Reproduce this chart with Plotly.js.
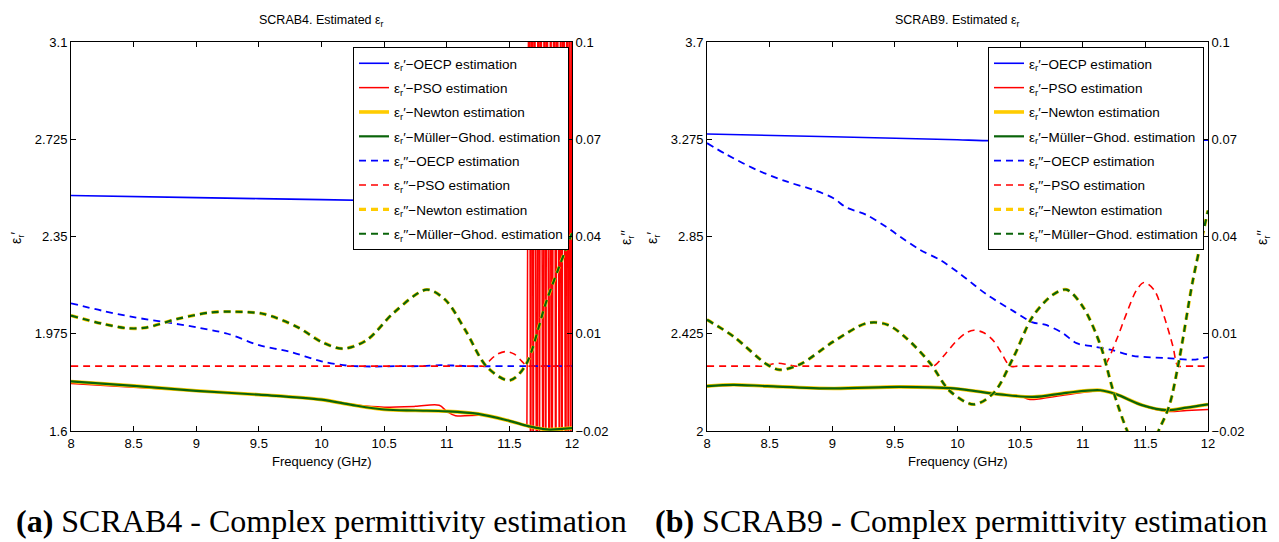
<!DOCTYPE html>
<html>
<head>
<meta charset="utf-8">
<script src="https://cdn.plot.ly/plotly-3.0.1.min.js"></script>
<style>html,body{margin:0;padding:0;background:#fff;}#chart{width:1279px;height:542px;}</style>
</head>
<body>
<div id="chart"></div>
<script>
// ---------------- DATA ----------------
const xTicks = [8, 8.5, 9, 9.5, 10, 10.5, 11, 11.5, 12];
const xTickText = ['8', '8.5', '9', '9.5', '10', '10.5', '11', '11.5', '12'];
const yTicksA = [1.6, 1.975, 2.35, 2.725, 3.1];
const yTicksB = [2, 2.425, 2.85, 3.275, 3.7];
const y2Ticks = [-0.02, 0.01, 0.04, 0.07, 0.1];
const y2TickText = ['\u22120.02', '0.01', '0.04', '0.07', '0.1'];

const legendNames = [
  'ε<sub>r</sub>′−OECP estimation',
  'ε<sub>r</sub>′−PSO estimation',
  'ε<sub>r</sub>′−Newton estimation',
  'ε<sub>r</sub>′−Müller−Ghod. estimation',
  'ε<sub>r</sub>′′−OECP estimation',
  'ε<sub>r</sub>′′−PSO estimation',
  'ε<sub>r</sub>′′−Newton estimation',
  'ε<sub>r</sub>′′−Müller−Ghod. estimation'
];

// ---- SCRAB4 : real part ----
const f4_reOECP = [8, 9, 10, 11, 12];
const s4_reOECP = [2.508, 2.500, 2.492, 2.484, 2.477];

const f4_reNewton = [8, 8.5, 9, 9.5, 10, 10.25, 10.5, 10.75, 11, 11.25, 11.5, 11.65, 11.8, 12];
const s4_reNewton = [1.791, 1.774, 1.755, 1.740, 1.721, 1.700, 1.683, 1.679, 1.676, 1.666, 1.639, 1.619, 1.606, 1.611];
const f4_reMuller = [8, 8.5, 9, 9.5, 10, 10.25, 10.5, 10.75, 11, 11.25, 11.5, 11.65, 11.8, 12];
const s4_reMuller = [1.791, 1.774, 1.755, 1.740, 1.721, 1.700, 1.683, 1.679, 1.676, 1.666, 1.639, 1.619, 1.606, 1.611];

const f4_rePSO = [8, 8.5, 9, 9.5, 10, 10.25, 10.4, 10.5, 10.75, 10.94, 11.0, 11.07, 11.26, 11.35, 11.5, 11.64];
const s4_rePSO = [1.783, 1.769, 1.755, 1.741, 1.722, 1.702, 1.694, 1.692, 1.695, 1.699, 1.676, 1.659, 1.661, 1.658, 1.640, 1.620];
// divergent PSO estimate above 11.64 GHz (off scale, alternating)
const f4_rePSOdiv = [11.64, 11.66, 11.67, 11.68, 11.69, 11.70, 11.72, 11.73, 11.74, 11.75, 11.77, 11.78, 11.79, 11.80, 11.82, 11.83, 11.84, 11.86, 11.87, 11.88, 11.90, 11.91, 11.92, 11.93, 11.95, 11.96, 11.97, 11.98, 11.99, 12.00];
const s4_rePSOdiv = [1.620, 4.1, 0.8, 4.6, 1.0, 3.9, 0.7, 4.4, 1.2, 4.0, 0.9, 4.7, 1.1, 3.8, 0.8, 4.3, 1.0, 4.5, 0.7, 4.1, 1.2, 3.9, 0.9, 4.6, 0.8, 4.2, 1.1, 4.0, 0.9, 4.4];

// ---- SCRAB4 : imaginary part ----
const f4_imOECP = [8, 8.25, 8.5, 8.75, 9, 9.25, 9.5, 9.75, 10, 10.2, 10.4, 10.6, 10.8, 10.95, 11.05, 11.2, 11.5, 12];
const s4_imOECP = [0.0194, 0.0171, 0.0151, 0.0136, 0.0120, 0.0100, 0.0065, 0.0044, 0.0015, 0.0002, -0.0001, 0.0, 0.0, 0.0003, 0.0002, 0.0, 0.0, 0.0];
const f4_imPSO = [8, 9, 10, 10.8, 11.2, 11.28, 11.3, 11.34, 11.4, 11.47, 11.54, 11.6, 11.64, 11.66, 11.8, 12];
const s4_imPSO = [0, 0, 0, 0, 0, 0, 0, 0.0016, 0.0036, 0.0045, 0.0037, 0.0015, 0, 0, 0, 0];
const f4_imNewton = [8, 8.25, 8.45, 8.6, 8.85, 9.12, 9.29, 9.54, 9.81, 10.0, 10.17, 10.36, 10.58, 10.84, 10.99, 11.15, 11.32, 11.5, 11.625, 11.8, 12];
const s4_imNewton = [0.0156, 0.0131, 0.0117, 0.0119, 0.0146, 0.0166, 0.0168, 0.0161, 0.0120, 0.0075, 0.0054, 0.0080, 0.0166, 0.0236, 0.0204, 0.0110, -0.0002, -0.0044, 0.0, 0.0205, 0.041];
const f4_imMuller = [8, 8.25, 8.45, 8.6, 8.85, 9.12, 9.29, 9.54, 9.81, 10.0, 10.17, 10.36, 10.58, 10.84, 10.99, 11.15, 11.32, 11.5, 11.625, 11.8, 12];
const s4_imMuller = [0.0156, 0.0131, 0.0117, 0.0119, 0.0146, 0.0166, 0.0168, 0.0161, 0.0120, 0.0075, 0.0054, 0.0080, 0.0166, 0.0236, 0.0204, 0.0110, -0.0002, -0.0044, 0.0, 0.0205, 0.041];

// ---- SCRAB9 : real part ----
const f9_reOECP = [8, 9, 10, 10.2, 11, 12];
const s9_reOECP = [3.298, 3.286, 3.273, 3.269, 3.270, 3.271];
const f9_reNewton = [8, 8.21, 8.48, 9.01, 9.54, 9.97, 10.34, 10.61, 10.87, 11.14, 11.27, 11.48, 11.67, 11.83, 12];
const s9_reNewton = [2.196, 2.202, 2.196, 2.186, 2.193, 2.186, 2.160, 2.149, 2.167, 2.178, 2.160, 2.112, 2.091, 2.102, 2.116];
const f9_reMuller = [8, 8.21, 8.48, 9.01, 9.54, 9.97, 10.34, 10.61, 10.87, 11.14, 11.27, 11.48, 11.67, 11.83, 12];
const s9_reMuller = [2.196, 2.202, 2.196, 2.186, 2.193, 2.186, 2.160, 2.149, 2.167, 2.178, 2.160, 2.112, 2.091, 2.102, 2.116];
const f9_rePSO = [8, 8.21, 8.48, 9.01, 9.3, 9.54, 9.8, 9.97, 10.34, 10.5, 10.56, 10.61, 10.87, 11.14, 11.27, 11.48, 11.67, 11.83, 12];
const s9_rePSO = [2.194, 2.200, 2.195, 2.187, 2.192, 2.196, 2.192, 2.186, 2.160, 2.153, 2.140, 2.138, 2.158, 2.176, 2.160, 2.110, 2.086, 2.090, 2.094];

// ---- SCRAB9 : imaginary part ----
const f9_imOECP = [8, 8.16, 8.4, 8.64, 8.85, 9.01, 9.11, 9.27, 9.43, 9.54, 9.7, 9.86, 10.02, 10.23, 10.45, 10.6, 10.7, 10.84, 10.95, 11.08, 11.22, 11.4, 11.67, 11.88, 12];
const s9_imOECP = [0.0688, 0.0652, 0.0605, 0.0569, 0.0544, 0.0518, 0.0490, 0.0467, 0.0430, 0.0400, 0.0359, 0.0328, 0.0285, 0.0222, 0.0169, 0.0135, 0.0128, 0.0102, 0.0071, 0.0061, 0.0051, 0.0032, 0.0025, 0.0020, 0.0028];
const f9_imPSO = [8, 8.2, 8.4, 8.45, 8.5, 8.57, 8.64, 8.7, 8.75, 9.0, 9.3, 9.6, 9.75, 9.81, 9.9, 9.99, 10.07, 10.13, 10.21, 10.29, 10.35, 10.42, 10.48, 10.7, 10.9, 11.1, 11.15, 11.18, 11.27, 11.35, 11.43, 11.49, 11.57, 11.65, 11.72, 11.76, 11.8, 11.9, 12];
const s9_imPSO = [0, 0, 0, 0, 0.0005, 0.0009, 0.0005, 0, 0, 0, 0, 0, 0, 0, 0.0036, 0.0077, 0.0103, 0.0111, 0.0103, 0.0077, 0.0041, 0, 0, 0, 0, 0, 0, 0.0005, 0.0082, 0.0163, 0.0235, 0.0258, 0.0235, 0.0153, 0.0061, 0, 0, 0, 0];
const f9_imNewton = [8.0, 8.21, 8.48, 8.58, 8.74, 9.01, 9.28, 9.44, 9.59, 9.78, 9.94, 10.13, 10.29, 10.45, 10.60, 10.76, 10.87, 11.00, 11.14, 11.24, 11.35, 11.48, 11.61, 11.69, 11.77, 11.88, 12];
const s9_imNewton = [0.0143, 0.0092, 0.0005, -0.0011, 0.0005, 0.0076, 0.0133, 0.0128, 0.0087, 0.0010, -0.0077, -0.0118, -0.0082, 0.0030, 0.0153, 0.0220, 0.0236, 0.0184, 0.0066, -0.0072, -0.0195, -0.030, -0.0195, -0.0123, 0.0020, 0.0266, 0.0480];
const f9_imMuller = [8.0, 8.21, 8.48, 8.58, 8.74, 9.01, 9.28, 9.44, 9.59, 9.78, 9.94, 10.13, 10.29, 10.45, 10.60, 10.76, 10.87, 11.00, 11.14, 11.24, 11.35, 11.48, 11.61, 11.69, 11.77, 11.88, 12];
const s9_imMuller = [0.0143, 0.0092, 0.0005, -0.0011, 0.0005, 0.0076, 0.0133, 0.0128, 0.0087, 0.0010, -0.0077, -0.0118, -0.0082, 0.0030, 0.0153, 0.0220, 0.0236, 0.0184, 0.0066, -0.0072, -0.0195, -0.030, -0.0195, -0.0123, 0.0020, 0.0266, 0.0480];

// ---------------- STYLE ----------------
const W = 1279, H = 542;
const BLUE = '#0000ff', RED = '#ff0000', YEL = '#ffcc00', GRN = '#0a640a';
const DASH = '7px,5px';
const FONT = 'Liberation Sans, Arial, Helvetica, sans-serif';
const px = v => v / W;
const py = v => (H - v) / H;

function mk(x, y, name, color, width, dash, xa, ya, leg, show, shape) {
  return {
    x: x, y: y, name: name, type: 'scatter', mode: 'lines',
    line: {color: color, width: width, dash: dash || 'solid', shape: shape || 'spline', smoothing: 0.9},
    xaxis: xa, yaxis: ya, legend: leg, legendgroup: leg + name,
    showlegend: show !== false, hoverinfo: 'skip'
  };
}

const traces = [];
function addSet(xa, ya, ya2, leg, d) {
  traces.push(mk(d.reOECP[0], d.reOECP[1], legendNames[0], BLUE, 1.6, null, xa, ya, leg));
  traces.push(mk(d.rePSO[0], d.rePSO[1], legendNames[1], RED, 1.5, null, xa, ya, leg));
  if (d.rePSOdiv) traces.push(mk(d.rePSOdiv[0], d.rePSOdiv[1], legendNames[1], RED, 1.5, null, xa, ya, leg, false, 'linear'));
  traces.push(mk(d.reNewton[0], d.reNewton[1], legendNames[2], YEL, 3.6, null, xa, ya, leg));
  traces.push(mk(d.reMuller[0], d.reMuller[1], legendNames[3], GRN, 2.2, null, xa, ya, leg));
  traces.push(mk(d.imOECP[0], d.imOECP[1], legendNames[4], BLUE, 1.8, DASH, xa, ya2, leg));
  traces.push(mk(d.imPSO[0], d.imPSO[1], legendNames[5], RED, 1.6, DASH, xa, ya2, leg));
  traces.push(mk(d.imNewton[0], d.imNewton[1], legendNames[6], YEL, 3.4, DASH, xa, ya2, leg));
  traces.push(mk(d.imMuller[0], d.imMuller[1], legendNames[7], GRN, 2.2, DASH, xa, ya2, leg));
}
addSet('x', 'y', 'y2', 'legend', {
  reOECP: [f4_reOECP, s4_reOECP], rePSO: [f4_rePSO, s4_rePSO], rePSOdiv: [f4_rePSOdiv, s4_rePSOdiv],
  reNewton: [f4_reNewton, s4_reNewton], reMuller: [f4_reMuller, s4_reMuller],
  imOECP: [f4_imOECP, s4_imOECP], imPSO: [f4_imPSO, s4_imPSO],
  imNewton: [f4_imNewton, s4_imNewton], imMuller: [f4_imMuller, s4_imMuller]
});
addSet('x2', 'y3', 'y4', 'legend2', {
  reOECP: [f9_reOECP, s9_reOECP], rePSO: [f9_rePSO, s9_rePSO],
  reNewton: [f9_reNewton, s9_reNewton], reMuller: [f9_reMuller, s9_reMuller],
  imOECP: [f9_imOECP, s9_imOECP], imPSO: [f9_imPSO, s9_imPSO],
  imNewton: [f9_imNewton, s9_imNewton], imMuller: [f9_imMuller, s9_imMuller]
});

const tickFont = {family: FONT, size: 13, color: '#000'};
function xAx(dom, anchor) {
  return {domain: dom, anchor: anchor, range: [8, 12], tickvals: xTicks, ticktext: xTickText,
    ticks: 'inside', ticklen: 5, tickcolor: '#000', showline: true, linecolor: '#000', linewidth: 1,
    mirror: 'ticks', showgrid: false, zeroline: false, tickfont: tickFont, fixedrange: true};
}
function yAx(range, vals, anchor, extra) {
  return Object.assign({anchor: anchor, range: range, tickvals: vals,
    ticks: 'inside', ticklen: 5, tickcolor: '#000', showline: true, linecolor: '#000', linewidth: 1,
    showgrid: false, zeroline: false, tickfont: tickFont, fixedrange: true}, extra || {});
}
const yDom = [py(431), py(42)];
const domA = [px(71), px(572)], domB = [px(707), px(1208)];

function legendCfg(rightPx) {
  return {x: px(rightPx), xanchor: 'right', y: py(47), yanchor: 'top', bgcolor: '#fff',
    bordercolor: '#000', borderwidth: 1, font: {family: FONT, size: 13.5, color: '#000'},
    itemwidth: 30, traceorder: 'grouped', tracegroupgap: 3.8};
}

function ann(text, xp, yp, size, extra) {
  return Object.assign({text: text, x: px(xp), y: py(yp), xref: 'paper', yref: 'paper', showarrow: false,
    xanchor: 'center', yanchor: 'middle', font: {family: FONT, size: size, color: '#000'}}, extra || {});
}
const SERIF = 'Liberation Serif, Times New Roman, serif';
const annotations = [
  ann('SCRAB4. Estimated ε<sub>r</sub>', 321.5, 21, 12.5),
  ann('SCRAB9. Estimated ε<sub>r</sub>', 957.5, 21, 12.5),
  ann('Frequency (GHz)', 321.5, 461, 13),
  ann('Frequency (GHz)', 957.5, 461, 13),
  ann('ε<sub>r</sub>′', 17, 238, 14, {textangle: -90}),
  ann('ε<sub>r</sub>′′', 627, 238, 14, {textangle: -90}),
  ann('ε<sub>r</sub>′', 653, 238, 14, {textangle: -90}),
  ann('ε<sub>r</sub>′′', 1263, 238, 14, {textangle: -90}),
  ann('<b>(a)</b> SCRAB4 - Complex permittivity estimation', 321, 521, 32, {font: {family: SERIF, size: 32, color: '#000'}}),
  ann('<b>(b)</b> SCRAB9 - Complex permittivity estimation', 961, 521, 32, {font: {family: SERIF, size: 32, color: '#000'}})
];

const layout = {
  width: W, height: H, margin: {l: 0, r: 0, t: 0, b: 0},
  paper_bgcolor: '#fff', plot_bgcolor: '#fff',
  font: {family: FONT, color: '#000'},
  xaxis: xAx(domA, 'y'),
  yaxis: yAx([1.6, 3.1], yTicksA, 'x', {domain: yDom}),
  yaxis2: yAx([-0.02, 0.1], y2Ticks, 'x', {overlaying: 'y', side: 'right', ticktext: y2TickText}),
  xaxis2: xAx(domB, 'y3'),
  yaxis3: yAx([2, 3.7], yTicksB, 'x2', {domain: yDom}),
  yaxis4: yAx([-0.02, 0.1], y2Ticks, 'x2', {overlaying: 'y3', side: 'right', ticktext: y2TickText}),
  legend: legendCfg(569),
  legend2: legendCfg(1204),
  annotations: annotations,
  showlegend: true
};

Plotly.newPlot('chart', traces, layout, {staticPlot: true, displayModeBar: false});
</script>
</body>
</html>
